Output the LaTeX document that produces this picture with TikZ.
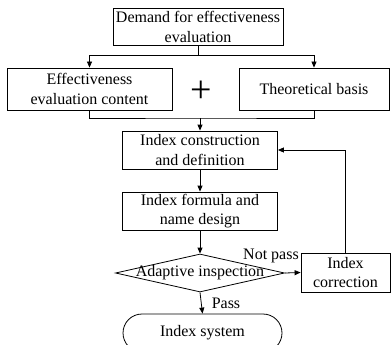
\documentclass[tikz,border=0pt]{standalone}
\usepackage{fontspec}
\setmainfont{Liberation Serif}
\usetikzlibrary{shapes.geometric,shapes.misc,arrows.meta}
\begin{document}
\begin{tikzpicture}[x=1pt,y=-1pt,
  font=\fontsize{16}{19.5}\selectfont,
  line width=0.8pt,
  box/.style={draw,rectangle,align=center,inner sep=0pt},
  arr/.style={-{Triangle[length=6pt,width=5pt]}},
  lbl/.style={inner sep=0pt}]
\useasboundingbox (0,0) rectangle (391,345);
\clip (0,0) rectangle (391,345);
\node[box,minimum width=170pt,minimum height=37pt] (demand) at (198,27) {Demand for effectiveness\\evaluation};
\node[box,minimum width=165pt,minimum height=42pt] (content) at (89.5,89) {Effectiveness\\evaluation content};
\node[box,minimum width=150pt,minimum height=42pt] (basis) at (314,89) {Theoretical basis};
\node[lbl,font=\fontsize{38}{38}\selectfont] (plus) at (201,92) {+};
\node[box,minimum width=155pt,minimum height=38pt] (construct) at (200,150) {Index construction\\and definition};
\node[box,minimum width=155pt,minimum height=38pt] (formula) at (200,211) {Index formula and\\name design};
\node[draw,diamond,inner sep=0pt,minimum width=169pt,minimum height=38pt] (check) at (200,273) {};
\node[lbl] (checktext) at (check.center) {Adaptive inspection};
\node[box,minimum width=89pt,minimum height=39pt] (correct) at (345.5,272.5) {Index\\correction};
\node[draw,rounded rectangle,inner sep=0pt,minimum width=159pt,minimum height=38pt] (system) at (202.5,333) {Index system};
\coordinate (split) at (198,55);
\coordinate (merge) at (200,118);
\draw (demand.south) -- (split);
\draw[arr] (split) -| (content.north);
\draw[arr] (split) -| (basis.north);
\draw (content.south) |- (merge) -| (basis.south);
\draw[arr] (merge) -- (construct.north);
\draw[arr] (construct) -- (formula);
\draw[arr] (formula) -- (check.north);
\draw[arr] (check.east) -- (correct.west);
\draw[arr] (correct.north) |- (construct.east);
\draw[arr] (check.south) -- (system.north);
\node[lbl] (notpass) at (271,256) {Not pass};
\node[lbl] (pass) at (226,303) {Pass};
\end{tikzpicture}
\end{document}
